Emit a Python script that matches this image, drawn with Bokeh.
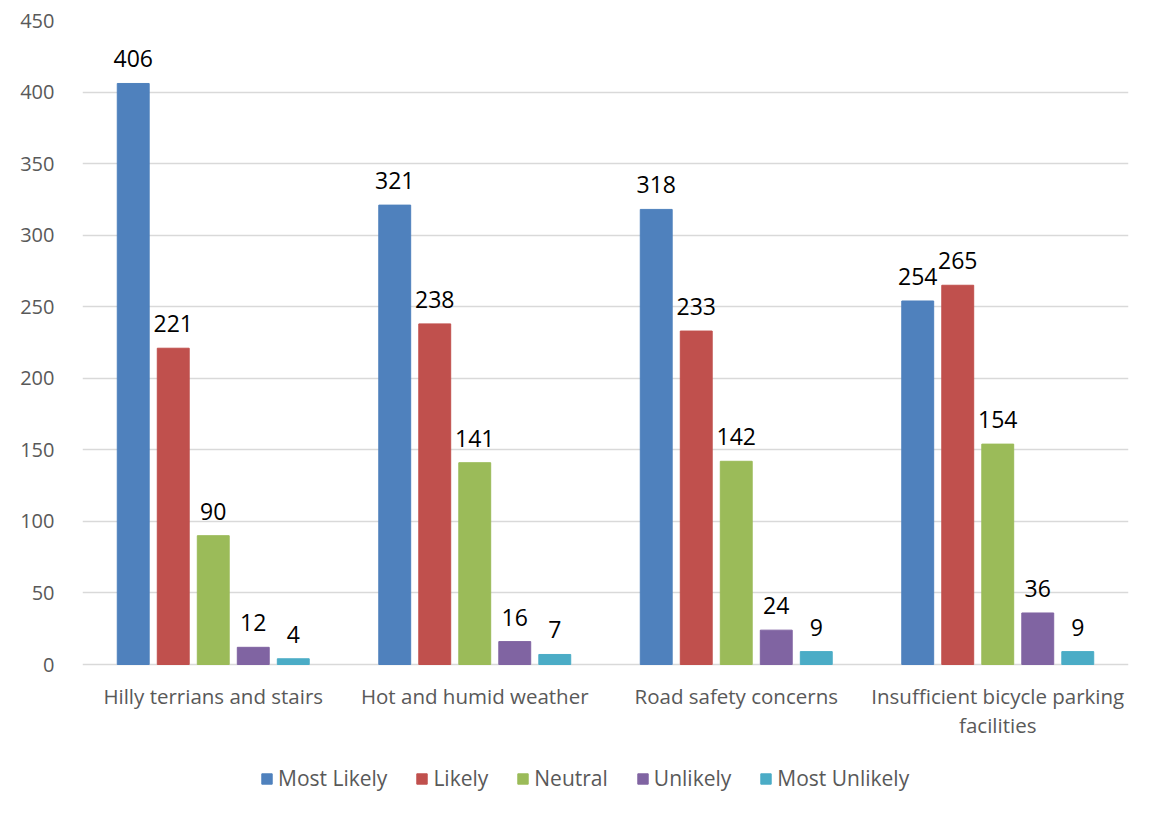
from bokeh.plotting import figure
from bokeh.models import ColumnDataSource, Legend, LegendItem, FixedTicker, LabelSet
from bokeh.transform import dodge
from bokeh.core.properties import value
from bokeh.embed import file_html
from bokeh.resources import INLINE

categories = ["Hilly terrians and stairs", "Hot and humid weather",
              "Road safety concerns", "Insufficient bicycle parking facilities"]
label_line1 = ["Hilly terrians and stairs", "Hot and humid weather",
               "Road safety concerns", "Insufficient bicycle parking"]
label_line2 = ["", "", "", "facilities"]
most_likely = [406, 321, 318, 254]
likely = [221, 238, 233, 265]
neutral = [90, 141, 142, 154]
unlikely = [12, 16, 24, 36]
most_unlikely = [4, 7, 9, 9]

series_names = ["Most Likely", "Likely", "Neutral", "Unlikely", "Most Unlikely"]
series_vals = [most_likely, likely, neutral, unlikely, most_unlikely]
colors = ["#4F81BD", "#C0504D", "#9BBB59", "#8064A2", "#4BACC6"]
offsets = [-0.306, -0.153, 0.0, 0.153, 0.306]

FONT = "Open Sans"
Y_MIN = -95.03

p = figure(x_range=categories, y_range=(Y_MIN, 450),
           frame_width=1046, frame_height=780,
           min_border_left=82, min_border_right=20, min_border_top=20, min_border_bottom=8,
           output_backend="svg", toolbar_location=None, outline_line_color=None)

renderers = []
for name, vals, col, off in zip(series_names, series_vals, colors, offsets):
    src = ColumnDataSource(dict(cat=categories, v=vals, lbl=[str(x) for x in vals]))
    r = p.vbar(x=dodge("cat", off, range=p.x_range), top="v", bottom=0, width=0.122, source=src,
               fill_color=col, line_color=col)
    renderers.append(r)
    labels = LabelSet(x=dodge("cat", off, range=p.x_range), y="v", text="lbl", source=src,
                      text_align="center", text_baseline="bottom", y_offset=16,
                      text_font=value(FONT), text_font_size="23px", text_color="#000000")
    p.add_layout(labels)

cat_src = ColumnDataSource(dict(cat=categories, l1=label_line1, l2=label_line2,
                                y1=[-21.7] * len(categories), y2=[-42.6] * len(categories)))
for col_name, y_name in (("l1", "y1"), ("l2", "y2")):
    p.add_layout(LabelSet(x="cat", y=y_name, text=col_name, source=cat_src,
                          text_align="center", text_baseline="middle",
                          text_font=value(FONT), text_font_size="20.5px", text_color="#595959"))

p.yaxis.ticker = FixedTicker(ticks=list(range(0, 451, 50)))
p.yaxis.axis_line_color = None
p.yaxis.major_tick_line_color = None
p.yaxis.minor_tick_line_color = None
p.yaxis.major_label_text_font = FONT
p.yaxis.major_label_text_font_size = "20px"
p.yaxis.major_label_text_color = "#595959"
p.yaxis.major_label_standoff = 22

p.xaxis.visible = False

p.xgrid.grid_line_color = None
p.ygrid.grid_line_color = "#D9D9D9"
p.ygrid.grid_line_width = 1.5
p.x_range.range_padding = 0.0

legend = Legend(items=[LegendItem(label=n, renderers=[r]) for n, r in zip(series_names, renderers)],
                orientation="horizontal", location=(178, 8),
                label_text_font=FONT, label_text_font_size="21px", label_text_color="#595959",
                glyph_width=13, glyph_height=13, spacing=28, label_standoff=5,
                border_line_color=None, background_fill_alpha=0, padding=0, margin=0)
p.add_layout(legend, "center")

open("out.html", "w").write(file_html(p, INLINE))
